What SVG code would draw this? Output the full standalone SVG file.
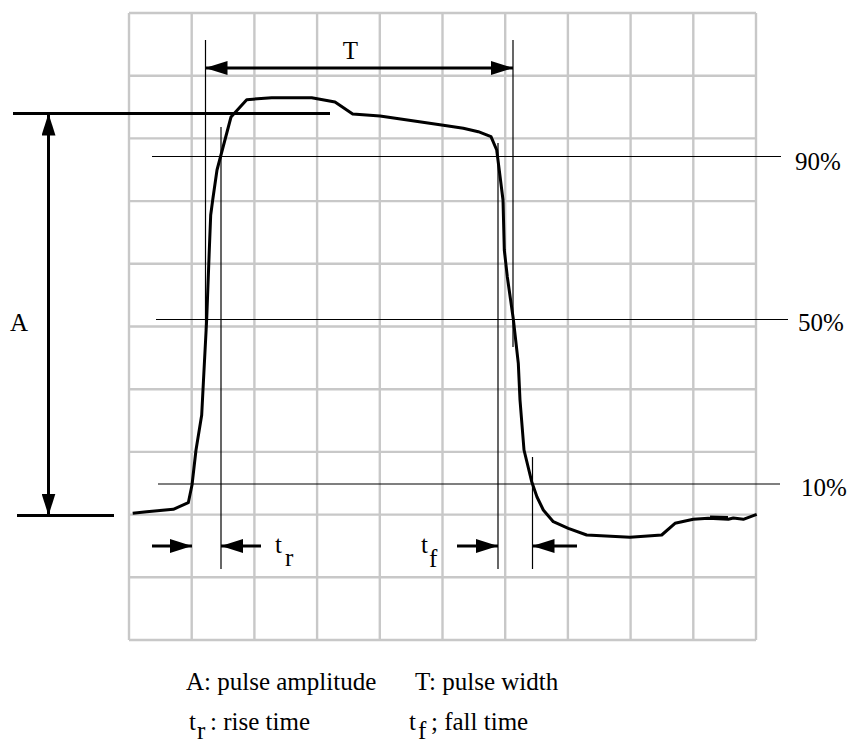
<svg xmlns="http://www.w3.org/2000/svg" width="848" height="740" viewBox="0 0 848 740">
<defs>
<style>
.grid{fill:none;stroke:#c8c8c8;stroke-width:2.4}
.thin{fill:none;stroke:#000;stroke-width:1.2}
.thick{fill:none;stroke:#000;stroke-width:3}
.wave{fill:none;stroke:#000;stroke-width:3;stroke-linejoin:round}
.arr{fill:none;stroke:#000;stroke-width:3;marker-end:url(#ah)}
.arr2{fill:none;stroke:#000;stroke-width:3;marker-start:url(#ah);marker-end:url(#ah)}
</style>
<marker id="ah" viewBox="0 0 22 14" markerWidth="22" markerHeight="14" refX="22" refY="7" orient="auto-start-reverse" markerUnits="userSpaceOnUse">
<path d="M0,0 L22,7 L0,14 z" fill="#000"/>
</marker>
</defs>
<rect width="848" height="740" fill="#fff"/>
<g id="grid">
<path class="grid" d="M129,13V640M191.7,13V640M254.4,13V640M317.1,13V640M379.8,13V640M442.5,13V640M505.2,13V640M567.9,13V640M630.6,13V640M693.3,13V640M756,13V640M129,13H756M129,75.7H756M129,138.4H756M129,201.1H756M129,263.8H756M129,326.5H756M129,389.2H756M129,451.9H756M129,514.6H756M129,577.3H756M129,640H756"/>
</g>
<g id="levels" font-family="'Liberation Serif', 'Times New Roman', 'DejaVu Serif', serif" font-size="25" fill="#000">
<line class="thin" x1="152" y1="156.5" x2="781" y2="156.5"/>
<line class="thin" x1="156" y1="319.5" x2="788" y2="319.5"/>
<line class="thin" x1="158" y1="484" x2="780" y2="484"/>
<text x="795" y="170">90%</text>
<text x="798" y="331">50%</text>
<text x="801" y="496">10%</text>
</g>
<g id="markers">
<line class="thin" x1="205.5" y1="40" x2="205.5" y2="330"/>
<line class="thin" x1="513" y1="40" x2="513" y2="347"/>
<line class="thin" x1="221" y1="127" x2="221" y2="569"/>
<line class="thin" x1="498" y1="143" x2="498" y2="569"/>
<line class="thin" x1="532.5" y1="457" x2="532.5" y2="569"/>
<line class="thick" x1="13" y1="113.5" x2="330" y2="113.5"/>
<line class="thick" x1="17" y1="515.5" x2="114" y2="515.5"/>
</g>
<g id="waveform">
<polyline class="wave" points="132.7,513.3 146.7,511.7 173.3,509.3 188.3,502.7 192,485 196,450 201.7,415 203.5,380 206.7,319 209.3,250 210.7,215 212.7,200 217,170 231,117 246.7,99.7 271.7,97.7 311.7,97.7 335,102 352.7,114 380,116 443.3,125.3 463.3,128.3 478.3,131.7 491,136.7 496.7,150 500.5,180 503,200 504.3,250 507.3,276.7 513.3,319 518.3,363.3 520,400 524,450 531.7,481.7 537,497 543.3,510 553.3,521.7 568.3,528.3 586.7,535 630,537.3 661.7,535 675,523.3 693.3,519.3 708.3,518.3 728.3,519.3 733.3,518 743.3,519.3 756.7,514.3"/>
<line x1="710" y1="517.5" x2="728" y2="518" stroke="#000" stroke-width="4"/>
</g>
<g id="connectors">
<line class="arr2" x1="205.5" y1="68" x2="513" y2="68"/>
<line class="arr2" x1="48.5" y1="113.5" x2="48.5" y2="515.5"/>
<line class="arr" x1="152" y1="546" x2="192" y2="546"/>
<line class="arr" x1="261" y1="546" x2="221" y2="546"/>
<line class="arr" x1="457" y1="546" x2="498" y2="546"/>
<line class="arr" x1="577" y1="546" x2="532.5" y2="546"/>
</g>
<g id="labels" font-family="'Liberation Serif', 'Times New Roman', 'DejaVu Serif', serif" font-size="25" fill="#000">
<text x="350.5" y="59" text-anchor="middle">T</text>
<text x="10" y="331">A</text>
<text x="275" y="553">t</text>
<text x="285" y="566">r</text>
<text x="421" y="553">t</text>
<text x="429" y="567">f</text>
</g>
<g id="legend" font-family="'Liberation Serif', 'Times New Roman', 'DejaVu Serif', serif" font-size="25" fill="#000">
<text x="186" y="690">A: pulse amplitude</text>
<text x="415" y="690">T: pulse width</text>
<text x="189" y="730">t</text>
<text x="197" y="739">r</text>
<text x="210" y="730">: rise time</text>
<text x="409" y="730">t</text>
<text x="418" y="739">f</text>
<text x="431" y="730">; fall time</text>
</g>
</svg>
